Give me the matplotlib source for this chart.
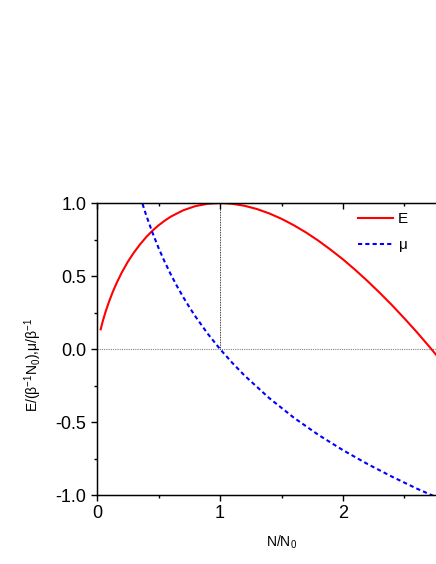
import matplotlib
matplotlib.use("Agg")
from matplotlib import pyplot as plt
from matplotlib.ticker import MultipleLocator

plt.rcParams["font.family"] = ["Liberation Sans", "DejaVu Sans"]
plt.rcParams["mathtext.fontset"] = "custom"
plt.rcParams["mathtext.rm"] = "Liberation Sans"
plt.rcParams["mathtext.it"] = "Liberation Sans:italic"
plt.rcParams["mathtext.default"] = "regular"

# E 曲线
x_E = [0.03, 0.04, 0.05, 0.07, 0.1, 0.13, 0.16, 0.2, 0.25, 0.3, 0.35, 0.4,
       0.45, 0.5, 0.55, 0.6, 0.7, 0.8, 0.9, 1.0, 1.1, 1.2, 1.3, 1.4, 1.5,
       1.6, 1.7, 1.8, 1.9, 2.0, 2.1, 2.2, 2.3, 2.4, 2.5, 2.6, 2.7, 2.8]
y_E = [0.135, 0.169, 0.200, 0.256, 0.330, 0.395, 0.453, 0.522, 0.597, 0.661,
       0.717, 0.767, 0.810, 0.847, 0.879, 0.907, 0.950, 0.979, 0.995, 1.000,
       0.995, 0.981, 0.959, 0.929, 0.892, 0.848, 0.798, 0.742, 0.680, 0.614,
       0.542, 0.465, 0.384, 0.299, 0.209, 0.116, 0.018, -0.083]
# mu 曲线
x_mu = [0.37, 0.4, 0.45, 0.5, 0.55, 0.6, 0.65, 0.7, 0.75, 0.8, 0.9, 1.0, 1.1,
        1.2, 1.4, 1.6, 1.8, 2.0, 2.2, 2.4, 2.6, 2.8]
y_mu = [0.994, 0.916, 0.799, 0.693, 0.598, 0.511, 0.431, 0.357, 0.288, 0.223,
        0.105, 0.0, -0.095, -0.182, -0.336, -0.470, -0.588, -0.693, -0.788,
        -0.875, -0.956, -1.030]

fig = plt.figure(figsize=(4.36, 5.64), dpi=100)
# 坐标轴右边超出图片(原图被裁掉了)
ax = fig.add_axes([0.2225, 0.1223, 0.8463, 0.5177])

ax.axhline(0, color="gray", lw=0.8, ls=(0, (1, 1)), zorder=1)
ax.plot([1, 1], [0, 1], color="black", lw=0.6, ls=(0, (1, 1)), zorder=1)

ax.plot(x_E, y_E, color="red", lw=1.5, label="E")
ax.plot(x_mu, y_mu, color="blue", lw=1.5, ls=(0, (2, 1.5)), label=r"$\mu$")

ax.set_xlim(0, 3)
ax.set_ylim(-1, 1)
ax.set_xticks([0, 1, 2])
ax.xaxis.set_minor_locator(MultipleLocator(0.5))
ax.yaxis.set_minor_locator(MultipleLocator(0.25))
ax.set_yticks([-1, -0.5, 0, 0.5, 1])
ax.set_yticklabels(["-1.0", "-0.5", "0.0", "0.5", "1.0"])
ax.tick_params(which="both", direction="out", labelsize=13, width=1)
ax.tick_params(which="major", length=4)
ax.tick_params(which="minor", length=2.5)
for s in ax.spines.values():
    s.set_linewidth(1)

# 上边刻度朝里
top = ax.twiny()
top.set_xlim(ax.get_xlim())
top.xaxis.set_major_locator(MultipleLocator(1))
top.xaxis.set_minor_locator(MultipleLocator(0.5))
top.tick_params(which="both", direction="in", labeltop=False, width=1)
top.tick_params(which="major", length=4)
top.tick_params(which="minor", length=2.5)

ax.set_xlabel(r"N/N$_0$", fontsize=10, labelpad=8)
ax.set_ylabel(r"E/($\beta^{-1}$N$_0$),$\mu$/$\beta^{-1}$", fontsize=10)
ax.yaxis.set_label_coords(-0.144, 0.445)

leg = ax.legend(loc="upper left", frameon=False, fontsize=11,
                handlelength=2.3, bbox_to_anchor=(0.682, 1.0),
                borderaxespad=0.2, labelspacing=0.8, handletextpad=0.3)

fig.savefig("out.png", dpi=100)
